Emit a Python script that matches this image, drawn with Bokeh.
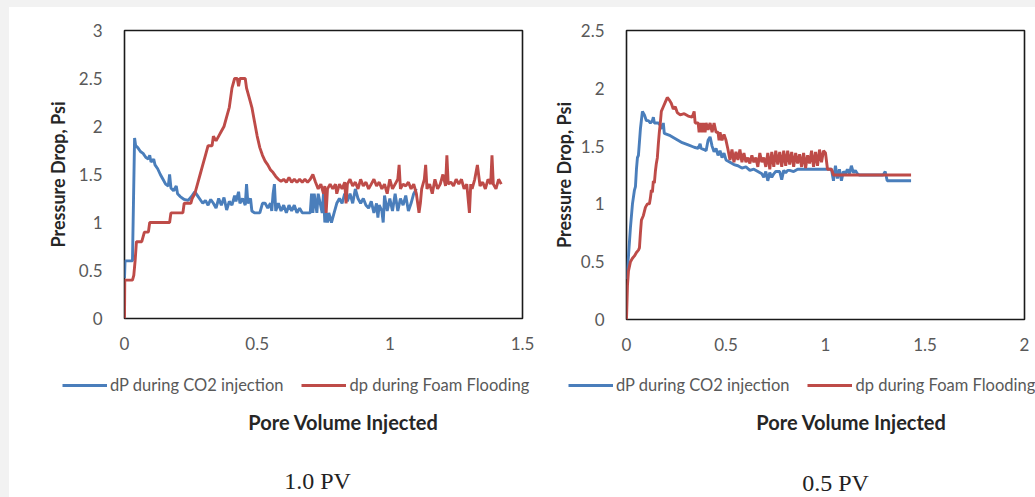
from bokeh.plotting import figure
from bokeh.models import Range1d, Legend, LegendItem, Label, FixedTicker, Spacer
from bokeh.layouts import row, column
from bokeh.embed import file_html
from bokeh.resources import INLINE

# ---------------- data: 1.0 PV ----------------
pv1_co2_x = [0.000, 0.002, 0.030, 0.038, 0.042, 0.050, 0.060, 0.070, 0.080, 0.090, 0.095, 0.100, 0.110,
             0.115, 0.125, 0.135, 0.145, 0.155, 0.165, 0.170, 0.175, 0.185, 0.195, 0.200, 0.210, 0.225,
             0.240, 0.255, 0.265, 0.275, 0.285, 0.295, 0.305, 0.315, 0.325, 0.335, 0.345, 0.355, 0.365,
             0.375, 0.385, 0.395, 0.405, 0.415, 0.420, 0.430, 0.435, 0.445, 0.455, 0.460, 0.465, 0.475,
             0.480, 0.490, 0.500, 0.510, 0.520, 0.530, 0.540, 0.550, 0.555, 0.560, 0.565, 0.570, 0.580,
             0.590, 0.600, 0.610, 0.620, 0.630, 0.640, 0.650, 0.660, 0.670, 0.700, 0.705, 0.710, 0.715,
             0.725, 0.730, 0.745, 0.750, 0.755, 0.760, 0.765, 0.770, 0.780, 0.790, 0.800, 0.810, 0.820,
             0.830, 0.840, 0.850, 0.860, 0.870, 0.880, 0.890, 0.900, 0.910, 0.920, 0.930, 0.940, 0.950,
             0.955, 0.960, 0.970, 0.975, 0.980, 0.990, 1.000, 1.010, 1.020, 1.030, 1.040, 1.050, 1.060,
             1.070, 1.080, 1.090, 1.100]
pv1_co2_y = [0.42, 0.60, 0.60, 1.88, 1.80, 1.78, 1.74, 1.72, 1.68, 1.66, 1.70, 1.63, 1.66,
             1.60, 1.56, 1.50, 1.45, 1.40, 1.38, 1.50, 1.36, 1.33, 1.38, 1.30, 1.27, 1.24,
             1.23, 1.28, 1.32, 1.28, 1.24, 1.20, 1.23, 1.18, 1.24, 1.20, 1.15, 1.25, 1.18,
             1.26, 1.13, 1.22, 1.18, 1.28, 1.22, 1.32, 1.20, 1.25, 1.18, 1.40, 1.20, 1.25,
             1.12, 1.10, 1.10, 1.10, 1.20, 1.20, 1.15, 1.20, 1.12, 1.30, 1.40, 1.12, 1.20,
             1.12, 1.18, 1.10, 1.18, 1.12, 1.18, 1.10, 1.15, 1.10, 1.10, 1.30, 1.10, 1.30,
             1.10, 1.30, 1.10, 1.30, 1.00, 1.10, 1.00, 1.10, 1.00, 1.10, 1.20, 1.25, 1.20,
             1.30, 1.22, 1.30, 1.20, 1.35, 1.25, 1.20, 1.25, 1.18, 1.15, 1.22, 1.10, 1.20,
             1.05, 1.18, 1.12, 1.00, 1.28, 1.12, 1.25, 1.12, 1.30, 1.12, 1.25, 1.18, 1.28,
             1.12, 1.20, 1.30, 1.35]

pv1_foam_x = [0.000, 0.001, 0.030, 0.035, 0.040, 0.045, 0.065, 0.070, 0.075, 0.090, 0.095, 0.170,
              0.175, 0.220, 0.225, 0.250, 0.255, 0.265, 0.275, 0.285, 0.295, 0.305, 0.315, 0.330,
              0.335, 0.345, 0.355, 0.365, 0.375, 0.385, 0.395, 0.405, 0.415, 0.425, 0.430, 0.435,
              0.455, 0.460, 0.470, 0.480, 0.490, 0.500, 0.510, 0.520, 0.530, 0.540, 0.550, 0.560,
              0.570, 0.580, 0.590, 0.600, 0.610, 0.620, 0.630, 0.640, 0.650, 0.660, 0.670, 0.680,
              0.690, 0.700, 0.710, 0.720, 0.730, 0.740, 0.750, 0.755, 0.760, 0.765, 0.775, 0.785,
              0.795, 0.800, 0.810, 0.820, 0.830, 0.835, 0.840, 0.850, 0.860, 0.870, 0.880, 0.890,
              0.900, 0.910, 0.920, 0.930, 0.940, 0.950, 0.960, 0.970, 0.980, 0.990, 1.000, 1.010,
              1.020, 1.030, 1.035, 1.040, 1.050, 1.060, 1.070, 1.080, 1.090, 1.100, 1.110, 1.115,
              1.120, 1.130, 1.135, 1.140, 1.150, 1.160, 1.170, 1.180, 1.190, 1.200, 1.210, 1.215,
              1.220, 1.230, 1.240, 1.250, 1.260, 1.270, 1.280, 1.290, 1.300, 1.305, 1.310, 1.320,
              1.330, 1.340, 1.350, 1.360, 1.370, 1.380, 1.385, 1.390, 1.400, 1.410, 1.420]
pv1_foam_y = [0.00, 0.40, 0.40, 0.45, 0.60, 0.80, 0.80, 0.85, 0.90, 0.90, 1.00, 1.00,
              1.10, 1.10, 1.20, 1.20, 1.25, 1.30, 1.40, 1.50, 1.60, 1.70, 1.80, 1.80,
              1.90, 1.85, 1.90, 1.95, 2.00, 2.10, 2.20, 2.40, 2.50, 2.50, 2.42, 2.50,
              2.50, 2.40, 2.30, 2.20, 2.05, 1.90, 1.78, 1.70, 1.64, 1.60, 1.55, 1.52,
              1.48, 1.45, 1.43, 1.45, 1.42, 1.47, 1.42, 1.45, 1.42, 1.45, 1.42, 1.45,
              1.42, 1.45, 1.50, 1.42, 1.35, 1.40, 1.30, 1.38, 1.10, 1.35, 1.40, 1.35,
              1.40, 1.30, 1.40, 1.35, 1.42, 1.20, 1.40, 1.45, 1.38, 1.42, 1.35, 1.45,
              1.38, 1.42, 1.35, 1.40, 1.45, 1.38, 1.42, 1.35, 1.40, 1.30, 1.45, 1.35,
              1.40, 1.45, 1.60, 1.35, 1.40, 1.38, 1.42, 1.35, 1.40, 1.30, 1.10, 1.20,
              1.35, 1.45, 1.60, 1.35, 1.40, 1.30, 1.45, 1.35, 1.40, 1.50, 1.38, 1.70,
              1.40, 1.42, 1.38, 1.45, 1.40, 1.45, 1.35, 1.40, 1.10, 1.40, 1.35, 1.45,
              1.60, 1.38, 1.42, 1.35, 1.45, 1.40, 1.70, 1.40, 1.35, 1.45, 1.40]

# ---------------- data: 0.5 PV ----------------
pv05_co2_x = [0.000, 0.010, 0.020, 0.030, 0.040, 0.045, 0.050, 0.055, 0.060, 0.070, 0.080, 0.090,
              0.100, 0.110, 0.120, 0.130, 0.135, 0.140, 0.160, 0.170, 0.180, 0.185, 0.190, 0.220,
              0.250, 0.280, 0.310, 0.340, 0.360, 0.370, 0.375, 0.390, 0.400, 0.410, 0.420, 0.430,
              0.440, 0.450, 0.460, 0.470, 0.480, 0.490, 0.500, 0.520, 0.540, 0.560, 0.580, 0.600,
              0.620, 0.640, 0.660, 0.680, 0.690, 0.700, 0.710, 0.720, 0.730, 0.740, 0.750, 0.770,
              0.780, 0.790, 0.800, 0.810, 0.820, 0.840, 0.860, 1.000, 1.030, 1.040, 1.050, 1.060,
              1.070, 1.080, 1.090, 1.100, 1.110, 1.120, 1.130, 1.140, 1.150, 1.160, 1.170, 1.180,
              1.290, 1.300, 1.310, 1.430]
pv05_co2_y = [0.35, 0.55, 0.80, 1.00, 1.12, 1.15, 1.30, 1.40, 1.42, 1.65, 1.80, 1.77,
              1.72, 1.72, 1.70, 1.72, 1.75, 1.70, 1.70, 1.68, 1.65, 1.70, 1.61, 1.59,
              1.56, 1.53, 1.51, 1.49, 1.48, 1.52, 1.48, 1.47, 1.46, 1.55, 1.58, 1.50,
              1.45, 1.48, 1.42, 1.46, 1.40, 1.44, 1.38, 1.36, 1.34, 1.33, 1.31, 1.32,
              1.29, 1.30, 1.28, 1.26, 1.23, 1.28, 1.20, 1.27, 1.23, 1.26, 1.28, 1.28,
              1.21, 1.29, 1.27, 1.29, 1.29, 1.28, 1.30, 1.30, 1.30, 1.20, 1.33, 1.22,
              1.30, 1.20, 1.28, 1.26, 1.30, 1.26, 1.33, 1.27, 1.29, 1.26, 1.25, 1.25,
              1.25, 1.28, 1.20, 1.20]

pv05_foam_x = [0.000, 0.005, 0.010, 0.020, 0.030, 0.040, 0.050, 0.060, 0.065, 0.070, 0.075, 0.085,
               0.095, 0.105, 0.115, 0.120, 0.125, 0.130, 0.135, 0.140, 0.145, 0.150, 0.155, 0.160,
               0.165, 0.170, 0.175, 0.185, 0.195, 0.205, 0.215, 0.225, 0.235, 0.245, 0.255, 0.270,
               0.290, 0.310, 0.330, 0.340, 0.345, 0.360, 0.365, 0.370, 0.380, 0.385, 0.395, 0.400,
               0.410, 0.420, 0.430, 0.440, 0.450, 0.460, 0.465, 0.470, 0.480, 0.490, 0.500, 0.510,
               0.520, 0.530, 0.540, 0.550, 0.560, 0.570, 0.580, 0.590, 0.600, 0.610, 0.620, 0.630,
               0.640, 0.650, 0.660, 0.670, 0.680, 0.690, 0.700, 0.710, 0.720, 0.730, 0.740, 0.750,
               0.760, 0.770, 0.780, 0.790, 0.800, 0.810, 0.820, 0.830, 0.840, 0.850, 0.860, 0.870,
               0.880, 0.890, 0.900, 0.910, 0.920, 0.930, 0.940, 0.950, 0.960, 0.970, 0.980, 0.990,
               1.000, 1.010, 1.030, 1.040, 1.430]
pv05_foam_y = [0.00, 0.30, 0.42, 0.50, 0.53, 0.55, 0.58, 0.60, 0.62, 0.75, 0.86, 0.90,
               0.97, 1.00, 1.00, 1.05, 1.12, 1.10, 1.20, 1.18, 1.28, 1.35, 1.40, 1.52,
               1.62, 1.70, 1.80, 1.84, 1.88, 1.92, 1.90, 1.87, 1.82, 1.84, 1.79, 1.77,
               1.78, 1.76, 1.75, 1.80, 1.70, 1.70, 1.62, 1.70, 1.62, 1.70, 1.62, 1.70,
               1.64, 1.70, 1.62, 1.70, 1.62, 1.62, 1.55, 1.62, 1.55, 1.60, 1.55, 1.47,
               1.38, 1.47, 1.36, 1.45, 1.38, 1.47, 1.36, 1.44, 1.36, 1.40, 1.35, 1.42,
               1.36, 1.40, 1.32, 1.44, 1.36, 1.40, 1.32, 1.44, 1.30, 1.45, 1.32, 1.46,
               1.34, 1.45, 1.32, 1.46, 1.33, 1.46, 1.34, 1.45, 1.32, 1.44, 1.35, 1.43,
               1.32, 1.44, 1.31, 1.42, 1.35, 1.46, 1.32, 1.45, 1.33, 1.47, 1.36, 1.46,
               1.44, 1.30, 1.30, 1.25, 1.25]

series_labels = ["dP during CO2 injection", "dp during Foam Flooding"]
captions = ["1.0 PV", "0.5 PV"]
x_title = "Pore Volume Injected"
y_title = "Pressure Drop, Psi"

BLUE = "#4a7ebb"
RED = "#be4b48"
TICK_COLOR = "#595959"
FONT = "Lato"
CHART_H = 355
NAN = float("nan")
LW = 2.9


def make_chart(xs_a, ys_a, xs_b, ys_b, xmax, ymax, xticks, yticks,
               width, ml, mr, mt, frame_h, ytitle_standoff):
    p = figure(width=width, height=CHART_H, output_backend="svg", toolbar_location=None,
               x_range=Range1d(0, xmax), y_range=Range1d(0, ymax),
               frame_width=398, frame_height=frame_h,
               min_border_left=ml, min_border_right=mr, min_border_top=mt,
               min_border_bottom=CHART_H - mt - frame_h)
    p.background_fill_color = "white"
    p.border_fill_color = "white"
    p.outline_line_color = "#1a1a1a"
    p.outline_line_width = 1.6
    p.grid.visible = False

    for ax in (p.xaxis[0], p.yaxis[0]):
        ax.axis_line_color = None
        ax.major_tick_line_color = None
        ax.minor_tick_line_color = None
        ax.major_label_text_font = FONT
        ax.major_label_text_font_size = "17px"
        ax.major_label_text_color = TICK_COLOR
    p.xaxis.ticker = FixedTicker(ticks=xticks)
    p.yaxis.ticker = FixedTicker(ticks=yticks)
    p.xaxis.major_label_standoff = 12
    p.yaxis.major_label_standoff = 16
    p.yaxis.axis_label = y_title
    p.yaxis.axis_label_text_font = FONT
    p.yaxis.axis_label_text_font_style = "bold"
    p.yaxis.axis_label_text_font_size = "18px"
    p.yaxis.axis_label_text_color = "#262626"
    p.yaxis.axis_label_standoff = ytitle_standoff

    p.line(xs_a, ys_a, line_color=BLUE, line_width=LW)
    p.line(xs_b, ys_b, line_color=RED, line_width=LW)
    return p


p1 = make_chart(pv1_co2_x, pv1_co2_y, pv1_foam_x, pv1_foam_y, 1.5, 3.0,
                [0, 0.5, 1, 1.5], [0, 0.5, 1, 1.5, 2, 2.5, 3],
                width=531, ml=115, mr=18, mt=23, frame_h=288, ytitle_standoff=7)
p2 = make_chart(pv05_co2_x, pv05_co2_y, pv05_foam_x, pv05_foam_y, 2.0, 2.5,
                [0, 0.5, 1, 1.5, 2], [0, 0.5, 1, 1.5, 2, 2.5],
                width=495, ml=86, mr=11, mt=20, frame_h=289, ytitle_standoff=3)

# ---- strip below the charts: legends, axis titles, captions (pixel coordinates) ----
STRIP_TOP, STRIP_BOTTOM = 7 + CHART_H, 497
strip = figure(width=1026, height=STRIP_BOTTOM - STRIP_TOP, output_backend="svg",
               toolbar_location=None, x_range=Range1d(9, 1035),
               y_range=Range1d(STRIP_BOTTOM, STRIP_TOP),
               min_border=0, x_axis_location=None, y_axis_location=None)
strip.outline_line_color = None
strip.grid.visible = False
strip.background_fill_color = "white"
strip.border_fill_color = "white"

legend_left = [53, 559]   # px from strip's left edge
for lx in legend_left:
    # legend-only renderers (no visible data)
    ra = strip.line([NAN], [NAN], line_color=BLUE, line_width=LW)
    rb = strip.line([NAN], [NAN], line_color=RED, line_width=LW)
    leg = Legend(items=[LegendItem(label=series_labels[0], renderers=[ra]),
                        LegendItem(label=series_labels[1], renderers=[rb])],
                 orientation="horizontal", location=(lx, STRIP_BOTTOM - 395),
                 glyph_width=45, glyph_height=16, label_standoff=3, spacing=18,
                 padding=0, margin=0, border_line_color=None, background_fill_alpha=0,
                 label_text_font=FONT, label_text_font_size="16.5px",
                 label_text_color=TICK_COLOR)
    strip.add_layout(leg, "center")

for cx in (343, 851):
    strip.add_layout(Label(x=cx, y=421, text=x_title, text_align="center",
                           text_baseline="middle", text_font=FONT,
                           text_font_style="bold", text_font_size="20px",
                           text_color="#262626"))
for cx, cy, cap in ((317, 480, captions[0]), (835, 482, captions[1])):
    strip.add_layout(Label(x=cx, y=cy, text=cap, text_align="center",
                           text_baseline="middle", text_font="Liberation Serif",
                           text_font_size="24px", text_color="#222222"))

GRAY = "#f2f2f2"
top = Spacer(width=1026, height=7, styles={"background-color": GRAY})
left = Spacer(width=9, height=497, styles={"background-color": GRAY})
layout = row(left, column(top, row(p1, p2, spacing=0), strip, spacing=0), spacing=0)

open("out.html", "w").write(file_html(layout, INLINE))
